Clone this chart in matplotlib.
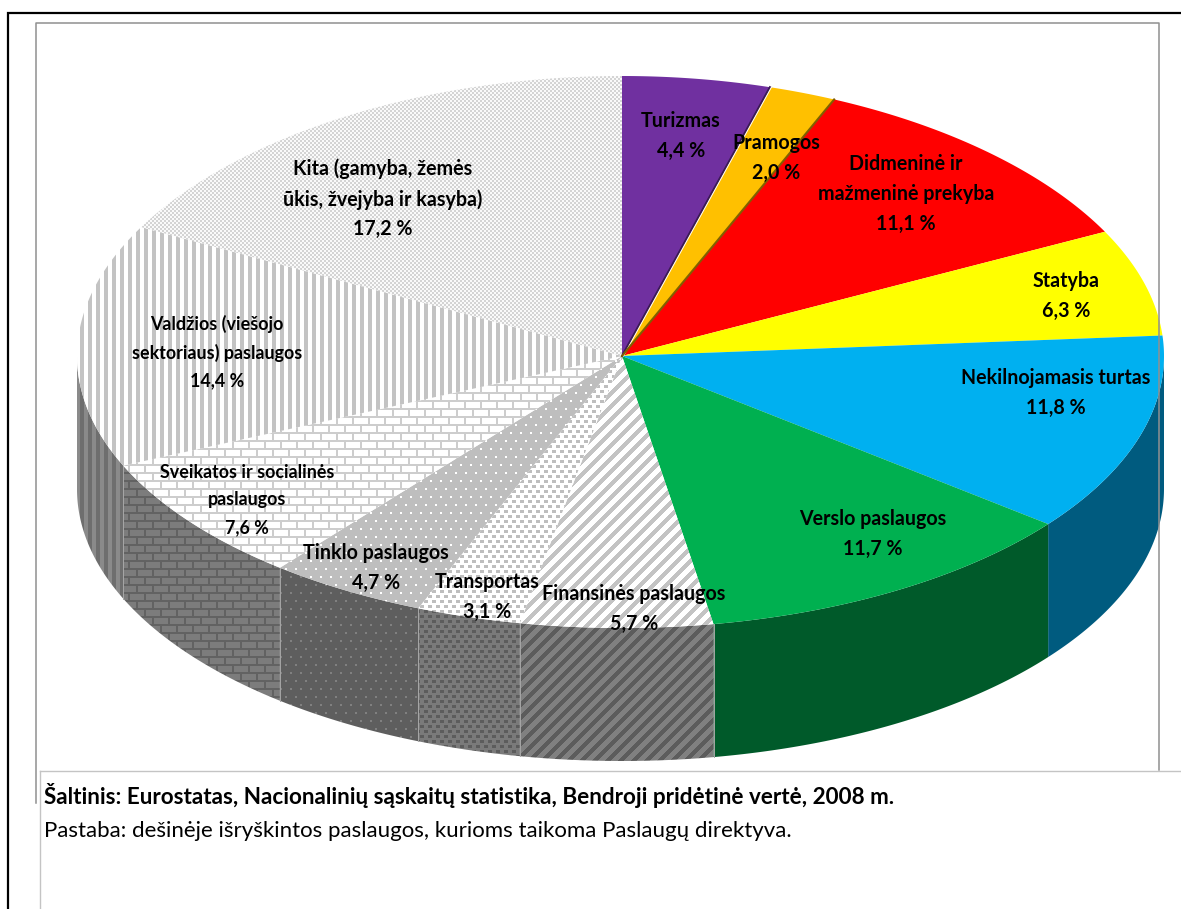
#!/usr/bin/env python3
# -*- coding: utf-8 -*-

import numpy as np
import matplotlib.pyplot as plt

plt.switch_backend('Agg')
plt.rcParams['font.family'] = ['Lato', 'DejaVu Sans']

# Data (clockwise from 12 o'clock)
names = ['Turizmas', 'Pramogos', 'Didmeninė ir\nmažmeninė prekyba', 'Statyba',
         'Nekilnojamasis turtas', 'Verslo paslaugos', 'Finansinės paslaugos',
         'Transportas', 'Tinklo paslaugos', 'Sveikatos ir socialinės\npaslaugos',
         'Valdžios (viešojo\nsektoriaus) paslaugos',
         'Kita (gamyba, žemės\nūkis, žvejyba ir kasyba)']
shares = [4.4, 2.0, 11.1, 6.3, 11.8, 11.7, 5.7, 3.1, 4.7, 7.6, 14.4, 17.2]

source_text = 'Šaltinis: Eurostatas, Nacionalinių sąskaitų statistika, Bendroji pridėtinė vertė, 2008 m.'
note_text = 'Pastaba: dešinėje išryškintos paslaugos, kurioms taikoma Paslaugų direktyva.'

# Label centres in pixels, and font sizes
label_x = [681, 776, 906, 1066, 1056, 873, 634, 487, 376, 247, 217, 383]
label_y = [136, 158, 194, 296, 393, 534, 609, 597, 568, 500, 352, 199]
label_size = [14.1, 14.1, 14.1, 14.1, 14.1, 14.1, 14.1, 14.1, 14.1, 12.9, 12.9, 14.1]

W, H = 1181, 909

# Pie geometry: the drawn ellipse is not quite symmetrical
cx, cy = 622, 356
rx_right, rx_left = 542, 545
ry_top, ry_bottom = 280, 272
depth = 133


def rim(t):
    sin_t, cos_t = np.sin(t), np.cos(t)
    x = cx + np.where(sin_t > 0, rx_right, rx_left) * sin_t
    # far half flattens towards the sides, as in the perspective of the original
    ry = np.where(cos_t > 0, ry_top - (ry_top - ry_bottom) * sin_t ** 2, ry_bottom)
    y = cy - ry * cos_t
    return x, y


# Fill patterns, as masks over the whole picture
yy, xx = np.indices((H, W))
row8 = yy // 8
row5 = yy // 5
m_fine = (((xx // 2) + (yy // 2)) % 2 == 0)
m_vert = (xx % 8) < 4
m_brick = ((yy % 8) < 2) | (((xx + 8 * (row8 % 2)) % 16) < 2)
m_net = ((yy % 8) < 2) & (((xx + 5 * (row8 % 2)) % 10) < 2)
m_trans = ((yy % 5) < 3) & (((xx + 4 * (row5 % 2)) % 8) < 4)
m_diag = ((xx + yy) % 13) < 6


def texture(mask, fg, bg):
    img = np.empty((H, W, 3), dtype=np.uint8)
    img[...] = bg
    img[mask] = fg
    return img


# colour or (mask, fg, bg) for the top and for the side of each slice
tops = ['#7030A0', '#FFC000', '#FF0000', '#FFFF00', '#00B0F0', '#00B050',
        (m_diag, (195, 195, 195), (255, 255, 255)),
        (m_trans, (190, 190, 190), (255, 255, 255)),
        (m_net, (255, 255, 255), (190, 190, 190)),
        (m_brick, (205, 205, 205), (255, 255, 255)),
        (m_vert, (195, 195, 195), (255, 255, 255)),
        (m_fine, (212, 212, 212), (250, 250, 250))]
sides = ['#3A1A55', '#806000', '#800000', '#808000', '#005B7F', '#005A2A',
         (m_diag, (92, 92, 92), (128, 128, 128)),
         (m_trans, (92, 92, 92), (122, 122, 122)),
         (m_net, (128, 128, 128), (94, 94, 94)),
         (m_brick, (98, 98, 98), (124, 124, 124)),
         (m_vert, (110, 110, 110), (138, 138, 138)),
         (m_fine, (120, 120, 120), (120, 120, 120))]


def paint(ax, px, py, style, zorder):
    if isinstance(style, str):
        ax.fill(px, py, facecolor=style, edgecolor='none', zorder=zorder)
        return
    patch = ax.fill(px, py, facecolor='none', edgecolor='none', zorder=zorder)[0]
    im = ax.imshow(texture(*style), extent=(0, W, H, 0), interpolation='nearest',
                   aspect='auto', zorder=zorder)
    im.set_clip_path(patch)


fig = plt.figure(figsize=(W / 100, H / 100), dpi=100)
ax = fig.add_axes([0, 0, 1, 1])

edges = 2 * np.pi * np.cumsum([0] + shares) / sum(shares)

# Side wall: only the front half of the pie shows
for i in range(len(shares)):
    t0, t1 = max(edges[i], np.pi / 2), min(edges[i + 1], 3 * np.pi / 2)
    if t1 <= t0:
        continue
    t = np.linspace(t0, t1, 120)
    x, y = rim(t)
    px = np.concatenate([x, x[::-1]])
    py = np.concatenate([y, y[::-1] + depth])
    paint(ax, px, py, sides[i], 2)
    # hatched slices have a light seam on the wall
    if i >= 6:
        ax.plot([x[0], x[0]], [y[0], y[0] + depth], color='#A6A6A6', lw=0.7, zorder=3)

# Top face
for i in range(len(shares)):
    t = np.linspace(edges[i], edges[i + 1], 160)
    x, y = rim(t)
    paint(ax, np.r_[cx, x], np.r_[cy, y], tops[i], 4)

# The thin inner walls showing between the first slices
x, y = rim(edges[1])
ax.plot([cx, x], [cy, y], color='#3A1A55', lw=1.5, zorder=5)
ax.plot([cx + 1.5, x + 1.5], [cy, y], color='white', lw=0.7, zorder=5)
x, y = rim(edges[2])
ax.plot([cx, x], [cy, y], color='#806000', lw=1.5, zorder=5)

# Labels
for name, share, lx, ly, size in zip(names, shares, label_x, label_y, label_size):
    value = ('%.1f %%' % share).replace('.', ',')
    ax.text(lx, ly, name + '\n' + value, ha='center', va='center', fontsize=size,
            fontweight='bold', color='black', linespacing=1.6 * 14.1 / size, zorder=6)

# Frames
ax.plot([36, 36, 1159, 1159], [803, 23, 23, 770], color='#909090', lw=1.1, zorder=7)
ax.fill([40, W, W, 40], [771, 771, H, H], facecolor='white', edgecolor='none', zorder=8)
ax.plot([40, 40], [H, 771], color='#C4C4C4', lw=1.0, zorder=9)
ax.plot([40, W], [771, 771], color='#C4C4C4', lw=1.0, zorder=9)
ax.plot([8, 8, W], [H, 13, 13], color='black', lw=1.6, zorder=9, solid_joinstyle='miter')

ax.text(44, 796, source_text, fontsize=16.2, fontweight='bold', va='center', zorder=10)
ax.text(44, 831, note_text, fontsize=16.0, va='center', zorder=10)

ax.set_xlim(0, W)
ax.set_ylim(H, 0)
ax.axis('off')

fig.savefig('out.png', dpi=100)
